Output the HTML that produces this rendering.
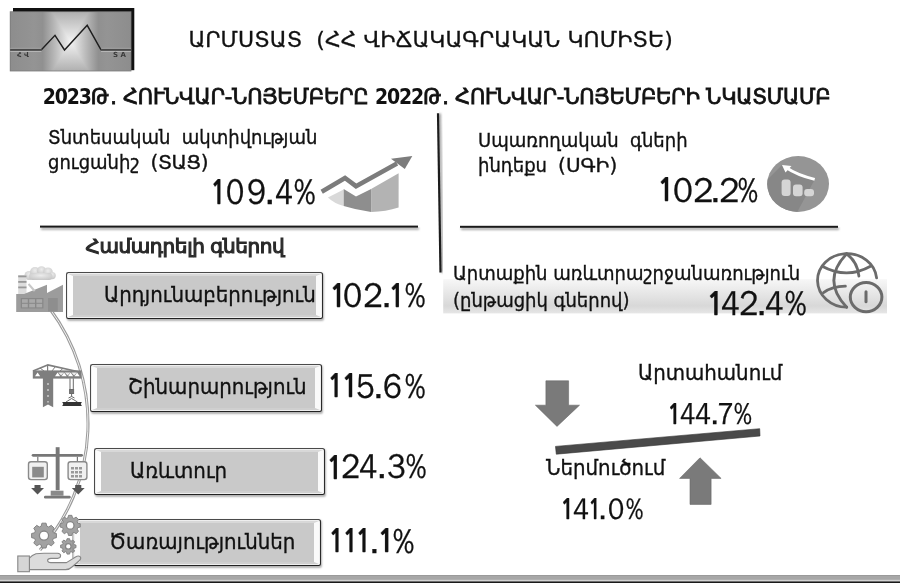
<!DOCTYPE html>
<html><head><meta charset="utf-8">
<style>
html,body{margin:0;padding:0;background:#fff;}
body{width:900px;height:583px;position:relative;overflow:hidden;}
.t{position:absolute;white-space:pre;line-height:1;color:#111;font-family:"DejaVu Sans",sans-serif;}
.d{font-family:"DejaVu Sans Condensed","DejaVu Sans",sans-serif;font-weight:bold;-webkit-text-stroke:0;letter-spacing:-1.15px;}
.c{font-family:"DejaVu Sans",sans-serif;-webkit-text-stroke:0.35px #111;transform:scaleX(0.9);transform-origin:0 0;}
.w{display:inline-block;transform:scaleX(1.1111);transform-origin:0 0;}
.num span{position:absolute;line-height:1;white-space:pre;color:#111;transform-origin:0 0;-webkit-text-stroke:0.25px #111;}
.box{position:absolute;box-sizing:border-box;border:1.7px solid;border-color:#4a4a4a #2a2a2a #222 #4a4a4a;border-radius:2.5px;background:#c9c9c9;box-shadow:1px 1.5px 2px rgba(0,0,0,0.3), inset 0 0 0 1px #eeeeee;}
.box i{position:absolute;left:1px;right:1px;top:1px;bottom:1px;box-sizing:border-box;border-style:solid;border-width:2px 5px 2px 5px;border-color:#d8d8d8 #fafafa #cfcfcf #fdfdfd;}
svg{position:absolute;left:0;top:0;}
</style></head><body>
<svg width="900" height="583" viewBox="0 0 900 583">
<defs>
<linearGradient id="lgT" x1="0" y1="0" x2="0" y2="1"><stop offset="0" stop-color="#a8a8a8"/><stop offset="1" stop-color="#f4f4f4"/></linearGradient>
<linearGradient id="lgB" x1="0" y1="1" x2="0" y2="0"><stop offset="0" stop-color="#a0a0a0"/><stop offset="1" stop-color="#f4f4f4"/></linearGradient>
<linearGradient id="lgL" x1="0" y1="0" x2="1" y2="0"><stop offset="0" stop-color="#8c8c8c"/><stop offset="0.35" stop-color="#989898"/><stop offset="1" stop-color="#f4f4f4"/></linearGradient>
<linearGradient id="lgR" x1="1" y1="0" x2="0" y2="0"><stop offset="0" stop-color="#8c8c8c"/><stop offset="0.35" stop-color="#989898"/><stop offset="1" stop-color="#f4f4f4"/></linearGradient>
<linearGradient id="band" x1="0" y1="0" x2="0" y2="1"><stop offset="0" stop-color="#f7f7f7"/><stop offset="0.78" stop-color="#d8d8d8"/><stop offset="1" stop-color="#e6e6e6"/></linearGradient>
<filter id="sh" x="-10%" y="-10%" width="130%" height="200%"><feGaussianBlur stdDeviation="0.8"/></filter>
</defs>
<!-- logo -->
<rect x="13" y="8" width="121.3" height="62.2" fill="#111"/>

<!-- vertical divider -->
<line x1="439.8" y1="113.5" x2="442.3" y2="272.8" stroke="#999" stroke-width="2.2" filter="url(#sh)"/>
<line x1="438" y1="113.2" x2="440.5" y2="272.6" stroke="#1c1c1c" stroke-width="2.2"/>
<!-- horizontal lines -->
<rect x="41" y="227.6" width="378" height="2" fill="#999" filter="url(#sh)"/>
<rect x="40" y="225.6" width="378" height="2" fill="#1a1a1a"/>
<rect x="461" y="227.8" width="378" height="2" fill="#999" filter="url(#sh)"/>
<rect x="460" y="225.8" width="378" height="2" fill="#1a1a1a"/>

<!-- growth icon -->
<path d="M327.9,197.6 L343.7,189.6 L343.7,206.1 Q334,203.5 327.9,197.6 Z" fill="#d9d9d9"/>
<path d="M343.7,189 L356,196.5 L371.1,189 L371.1,212 Q356,210 343.7,206.1 Z" fill="#8e8e8e"/>
<path d="M371.1,189 L398.6,173.2 L398.6,207.5 Q386,211.5 371.1,212 Z" fill="#b3b3b3"/>
<polyline points="321.7,191.7 345,178 356,186.2 397,163.5" fill="none" stroke="#7c7c7c" stroke-width="4.6" stroke-linejoin="miter"/>
<polygon points="412.3,156 391,158.7 404.8,169" fill="#7c7c7c"/>

<!-- SGI circle icon -->
<defs><clipPath id="cc"><ellipse cx="798.1" cy="184" rx="30.9" ry="28"/></clipPath></defs>
<ellipse cx="798.1" cy="184" rx="30.9" ry="28" fill="#959595"/>
<polygon clip-path="url(#cc)" points="782,165 814.7,179.4 793.5,219 750,219 750,197" fill="#878787"/>
<g fill="#d5d5d5">
<rect x="781.6" y="179.5" width="9" height="16.5" rx="3"/>
<rect x="793" y="184.5" width="9.6" height="11.7" rx="3"/>
<rect x="804.2" y="189" width="9.8" height="7.2" rx="3"/>
</g>
<path d="M814.7,179.4 Q797,175 786,167.5" fill="none" stroke="#fff" stroke-width="2.8"/>
<polygon points="782,165 791.5,166 785.5,172.5" fill="#fff"/>

<!-- band -->
<rect x="443.2" y="279.2" width="443.8" height="34.2" fill="url(#band)"/>

<!-- globe icon -->
<g fill="none" stroke="#6b6b6b" stroke-width="2.8" stroke-linecap="round">
<path d="M876.6,277.8 A29.6,26.8 0 1 0 846.7,307.2"/>
<path d="M846.7,253.8 Q821,280.5 846.7,307.2"/>
<path d="M846.7,253.8 C853.5,259 858,266 858.9,276"/>
<path d="M822.2,266.2 Q846.7,279.5 870.5,266.2"/>
<path d="M823.5,292.6 Q832,286.5 845.4,286.2"/>
<ellipse cx="866.1" cy="297.1" rx="15.8" ry="14.6" stroke-width="3"/>
<line x1="866" y1="291.8" x2="866" y2="301.8" stroke-width="3"/>
</g>

<!-- arc connector -->
<path d="M50,309 A191,191 0 0 1 40,550" fill="none" stroke="#9a9a9a" stroke-width="3"/>
<path d="M50,309 A191,191 0 0 1 40,550" fill="none" stroke="#f2f2f2" stroke-width="1"/>

<!-- factory icon -->
<g>
<defs><radialGradient id="cl" cx="0.5" cy="0.35" r="0.7"><stop offset="0" stop-color="#ececec"/><stop offset="1" stop-color="#c4c4c4"/></radialGradient></defs>
<g fill="url(#cl)">
<circle cx="29" cy="275.5" r="4.6"/>
<circle cx="35" cy="272" r="5"/>
<circle cx="41.5" cy="270.8" r="4.6"/>
<circle cx="48" cy="272.2" r="4.8"/>
<circle cx="52.2" cy="275.6" r="3.6"/>
<rect x="29" y="273" width="23.5" height="7" rx="3.5"/>
</g>
<rect x="18.2" y="275" width="8.3" height="19" fill="#dddddd"/>
<rect x="18.2" y="275.5" width="8.3" height="1.8" fill="#999"/>
<rect x="18.2" y="281" width="8.3" height="1.8" fill="#999"/>
<rect x="18.2" y="286.5" width="8.3" height="1.8" fill="#999"/>
<polygon points="16.2,294 24,294 47,284.7 47,293 63,284.7 63,312 16.2,312" fill="#9c9c9c"/>
<line x1="28.5" y1="284" x2="34.7" y2="291" stroke="#c8c8c8" stroke-width="2"/>
<rect x="20.8" y="298" width="22.6" height="10.4" fill="#888"/>
<g fill="#a9a9a9"><rect x="22" y="299.2" width="5.8" height="3.6"/><rect x="29.2" y="299.2" width="5.8" height="3.6"/><rect x="36.4" y="299.2" width="5.8" height="3.6"/><rect x="22" y="303.8" width="5.8" height="3.6"/><rect x="29.2" y="303.8" width="5.8" height="3.6"/><rect x="36.4" y="303.8" width="5.8" height="3.6"/></g>
<rect x="48" y="298" width="9.8" height="13.4" fill="#8e8e8e"/>
</g>

<!-- crane icon -->
<g stroke="#7e7e7e" fill="none" stroke-linejoin="round">
<polyline points="33,371 47.6,364.9 78.5,371.8" stroke-width="1.6"/>
<line x1="40" y1="368" x2="44" y2="371" stroke-width="1"/><line x1="47.6" y1="365" x2="47.6" y2="371" stroke-width="1.2"/><line x1="55" y1="367" x2="52" y2="371" stroke-width="1"/><line x1="63" y1="368.4" x2="60" y2="371" stroke-width="1"/>
</g>
<g fill="#7e7e7e">
<rect x="32.8" y="370.4" width="48.8" height="8.2"/>
</g>
<g fill="#fff">
<polygon points="35,376.2 37.6,372.4 40.2,376.2"/><polygon points="55,376.2 57.6,372.4 60.2,376.2"/><polygon points="61.5,376.2 64.1,372.4 66.7,376.2"/><polygon points="68,376.2 70.6,372.4 73.2,376.2"/><polygon points="74.5,376.2 77.1,372.4 79.7,376.2"/>
<polygon points="58.3,372.4 61.1,375.6 63.9,372.4" fill="#eee"/><polygon points="64.8,372.4 67.6,375.6 70.4,372.4" fill="#eee"/><polygon points="71.3,372.4 74.1,375.6 76.9,372.4" fill="#eee"/>
</g>
<g fill="#7e7e7e">
<polygon points="42.9,372 53.2,372 53.2,407.2 48,404.4 42.9,407.2"/>
</g>
<g fill="#b8b8b8"><rect x="47" y="383" width="2" height="2"/><rect x="47" y="389" width="2" height="2"/><rect x="47" y="395" width="2" height="2"/><rect x="47" y="401" width="2" height="1.6"/></g>
<g stroke="#6a6a6a" stroke-width="1" fill="none">
<line x1="70" y1="378.4" x2="70" y2="389.5"/><line x1="73.3" y1="378.4" x2="73.3" y2="389.5"/>
<rect x="69.6" y="389.5" width="4" height="4" fill="#777"/>
<path d="M71.6,393.5 L71.6,396.5 L68.5,398 M71.6,396.5 L74.5,398"/>
<line x1="66" y1="402" x2="71.6" y2="398.5"/><line x1="77.5" y1="402" x2="71.6" y2="398.5"/>
</g>
<polygon points="62.2,402 81.9,402 80.8,404 81.9,405.9 62.2,405.9 63.3,404" fill="#333"/>

<!-- scale icon -->
<g>
<rect x="55.7" y="447.2" width="3.9" height="43" fill="#777"/>
<rect x="31.7" y="453.9" width="51.3" height="2.8" rx="1.4" fill="#777"/>
<line x1="37.8" y1="456.7" x2="37.8" y2="461.2" stroke="#777" stroke-width="1.2"/>
<line x1="77.4" y1="456.7" x2="77.4" y2="461.2" stroke="#777" stroke-width="1.2"/>
<rect x="28.5" y="461.8" width="18.8" height="17.8" rx="2.5" fill="#f0f0f0" stroke="#8a8a8a" stroke-width="1.4"/>
<rect x="32.2" y="466.8" width="11.6" height="10.6" fill="#8a8a8a"/>
<rect x="68.1" y="461.8" width="18.8" height="17.8" rx="2.5" fill="#f0f0f0" stroke="#8a8a8a" stroke-width="1.4"/>
<g fill="#999"><rect x="71" y="467" width="3" height="2.5"/><rect x="75" y="467" width="3" height="2.5"/><rect x="79" y="467" width="3" height="2.5"/><rect x="71" y="471" width="3" height="2.5"/><rect x="75" y="471" width="3" height="2.5"/><rect x="79" y="471" width="3" height="2.5"/><rect x="71" y="475" width="3" height="2.5"/><rect x="75" y="475" width="3" height="2.5"/><rect x="79" y="475" width="3" height="2.5"/></g>
<polygon points="34.5,485.1 40.6,485.1 40.6,488 44,488 37.55,494.6 31.1,488 34.5,488" fill="#555"/>
<polygon points="75.2,485.1 81.3,485.1 81.3,488 84.7,488 78.25,494.6 71.8,488 75.2,488" fill="#555"/>
<rect x="50.7" y="490.7" width="12.8" height="5" fill="#8a8a8a"/>
<rect x="44" y="495.7" width="26.7" height="2.8" rx="1.2" fill="#777"/>
</g>

</svg>

<div style="position:absolute;left:10.2px;top:11.7px;width:120.8px;height:59.3px;background:linear-gradient(90deg,#8d8d8d 0%,#949494 20%,#909090 27%,#bdbdbd 38%,#f3f3f3 50%,#bdbdbd 62%,#909090 73%,#949494 80%,#8d8d8d 100%),linear-gradient(180deg,#b0b0b0 0%,#f3f3f3 50%,#b0b0b0 100%);background-blend-mode:darken;"></div>
<svg width="900" height="583" viewBox="0 0 900 583">
<rect x="10.2" y="11.7" width="120.8" height="59.3" fill="none" stroke="#7a7a7a" stroke-width="0.8"/>
<line x1="10.2" y1="48.4" x2="41.4" y2="48.4" stroke="#bdbdbd" stroke-width="0.8"/>
<line x1="10.2" y1="51.4" x2="41.4" y2="51.4" stroke="#c4c4c4" stroke-width="0.8"/>
<line x1="101" y1="48.4" x2="131" y2="48.4" stroke="#bdbdbd" stroke-width="0.8"/>
<line x1="101" y1="51.4" x2="131" y2="51.4" stroke="#c4c4c4" stroke-width="0.8"/>
<polyline points="41.4,49.8 55,35.3 64.5,50 87.2,25.3 101,49.8" fill="none" stroke="#1e1e1e" stroke-width="1.4" stroke-linejoin="miter"/>
<line x1="10.2" y1="49.8" x2="41.8" y2="49.8" stroke="#4a4a4a" stroke-width="2"/>
<line x1="100.6" y1="49.8" x2="131" y2="49.8" stroke="#4a4a4a" stroke-width="2"/>
<text x="17" y="57.3" font-family="DejaVu Sans" font-size="7" font-weight="bold" fill="#3a3a3a">Հ Վ</text>
<text x="113" y="57.3" font-family="DejaVu Sans" font-size="7" font-weight="bold" fill="#3a3a3a">S A</text>

</svg>
<!-- boxes (HTML) -->
<div class="box" style="left:65.7px;top:272.2px;width:257.1px;height:47.3px"><i></i></div>
<div class="box" style="left:90.3px;top:363.9px;width:231.7px;height:48.1px"><i></i></div>
<div class="box" style="left:93.6px;top:448.1px;width:231.4px;height:46.8px"><i></i></div>
<div class="box" style="left:72.8px;top:519.4px;width:248.5px;height:47px"><i></i></div>

<svg width="900" height="583" viewBox="0 0 900 583" style="pointer-events:none">
<!-- gears + hand -->
<rect x="72.2" y="521.2" width="2.4" height="43.6" fill="#f4f4f4"/>
<path d="M53.38,532.76 L56.43,533.53 L56.43,537.67 L53.38,538.44 L52.64,540.22 L54.25,542.93 L51.33,545.85 L48.62,544.24 L46.84,544.98 L46.07,548.03 L41.93,548.03 L41.16,544.98 L39.38,544.24 L36.67,545.85 L33.75,542.93 L35.36,540.22 L34.62,538.44 L31.57,537.67 L31.57,533.53 L34.62,532.76 L35.36,530.98 L33.75,528.27 L36.67,525.35 L39.38,526.96 L41.16,526.22 L41.93,523.17 L46.07,523.17 L46.84,526.22 L48.62,526.96 L51.33,525.35 L54.25,528.27 L52.64,530.98 Z" fill="#a2a2a2" stroke="#7e7e7e" stroke-width="0.9" stroke-linejoin="round"/><circle cx="44" cy="535.6" r="4.6" fill="#fff" stroke="#858585" stroke-width="1.3"/>
<path d="M77.76,523.11 L80.26,523.73 L80.26,527.07 L77.76,527.69 L77.17,529.12 L78.50,531.33 L76.13,533.70 L73.92,532.37 L72.49,532.96 L71.87,535.46 L68.53,535.46 L67.91,532.96 L66.48,532.37 L64.27,533.70 L61.90,531.33 L63.23,529.12 L62.64,527.69 L60.14,527.07 L60.14,523.73 L62.64,523.11 L63.23,521.68 L61.90,519.47 L64.27,517.10 L66.48,518.43 L67.91,517.84 L68.53,515.34 L71.87,515.34 L72.49,517.84 L73.92,518.43 L76.13,517.10 L78.50,519.47 L77.17,521.68 Z" fill="#a2a2a2" stroke="#7e7e7e" stroke-width="0.9" stroke-linejoin="round"/><circle cx="70.2" cy="525.4" r="3.8" fill="#fff" stroke="#858585" stroke-width="1.3"/>
<path d="M74.04,544.66 L75.99,545.12 L75.99,547.68 L74.04,548.14 L73.59,549.23 L74.65,550.94 L72.84,552.75 L71.13,551.69 L70.04,552.14 L69.58,554.09 L67.02,554.09 L66.56,552.14 L65.47,551.69 L63.76,552.75 L61.95,550.94 L63.01,549.23 L62.56,548.14 L60.61,547.68 L60.61,545.12 L62.56,544.66 L63.01,543.57 L61.95,541.86 L63.76,540.05 L65.47,541.11 L66.56,540.66 L67.02,538.71 L69.58,538.71 L70.04,540.66 L71.13,541.11 L72.84,540.05 L74.65,541.86 L73.59,543.57 Z" fill="#a2a2a2" stroke="#7e7e7e" stroke-width="0.9" stroke-linejoin="round"/><circle cx="68.3" cy="546.4" r="2.8" fill="#fff" stroke="#858585" stroke-width="1.3"/>
<line x1="72.9" y1="533" x2="72.9" y2="558" stroke="#8a8a8a" stroke-width="0.9"/>
<!-- hand -->
<path d="M29.4,558.2 Q32,555.2 36,553.8 Q39,553.2 44,553.2 L57.5,553.2 Q60.6,553.4 60.6,555.8 Q60.6,558.2 57.5,558.4 L51,558.4 Q47.6,558.6 47.6,560.5 Q47.8,562.6 51,562.6 L66.5,562.6 L75.5,557 Q78.5,555.2 80.3,556.8 Q81.5,558.4 79.5,560.5 L72,567 Q69.5,569.6 65.5,569.6 L29.4,569.6 Z" fill="#dcdcdc" stroke="#878787" stroke-width="1.1" stroke-linejoin="round"/>
<rect x="17.8" y="556" width="11.6" height="15.7" fill="#d6d6d6" stroke="#878787" stroke-width="1.1"/>
<!-- bottom-right arrows and bar -->
<polygon points="545.9,380.8 568.6,380.8 568.6,405.2 579.5,405.2 557,426.4 535.4,405.2 545.9,405.2" fill="#7a7a7a" stroke="#6a6a6a" stroke-width="0.6"/>
<polygon points="700,457.8 721.1,478.4 711.1,478.4 711.1,504.4 690,504.4 690,478.4 679.6,478.4" fill="#7a7a7a" stroke="#6a6a6a" stroke-width="0.6"/>
<polygon points="555.5,446.4 759.7,428.7 760,436 556.3,454.2" fill="#4a4a4a" stroke="#333" stroke-width="0.6"/>
<!-- bottom band -->
<rect x="0" y="575" width="900" height="5" fill="#a7a7a7"/>
<rect x="0" y="575" width="900" height="1" fill="#9a9a9a"/>
<rect x="0" y="579.8" width="900" height="1.6" fill="#d2d2d2"/>
<rect x="0" y="581.4" width="900" height="1.6" fill="#1a1a1a"/>
</svg>

<!-- texts -->
<div class="t" style="left:188.4px;top:28.9px;font-size:22px;letter-spacing:0.05px;-webkit-text-stroke:0.3px #111">ԱՐՄՍՏԱՏ  (ՀՀ ՎԻՃԱԿԱԳՐԱԿԱՆ ԿՈՄԻՏԵ)</div>
<div class="t" style="left:42.8px;top:86.9px;font-size:21px;letter-spacing:-0.25px;-webkit-text-stroke:0.8px #111"><span class="d">2023</span><span style="margin-right:1.6px">Թ</span>. ՀՈՒՆՎԱՐ-ՆՈՅԵՄԲԵՐԸ <span class="d">2022</span><span style="margin-right:1.6px">Թ</span>. ՀՈՒՆՎԱՐ-ՆՈՅԵՄԲԵՐԻ ՆԿԱՏՄԱՄԲ</div>

<div class="t c" style="left:47.7px;top:127.5px;font-size:20px;line-height:24.3px;top:125.3px">Տնտեսական  ակտիվության
ցուցանիշ  <span class="w" style="letter-spacing:-0.5px">(ՏԱՑ)</span></div>
<div class="t" style="left:85.5px;top:236.4px;font-size:20px;letter-spacing:-0.42px;-webkit-text-stroke:1.1px #2a2a2a;color:#2a2a2a">Համադրելի գներով</div>

<div class="t c" style="left:478px;top:128px;font-size:20px;line-height:24.5px">Սպառողական  գների
ինդեքս  <span class="w">(ՍԳԻ)</span></div>

<div class="t c" style="left:453px;top:260px;font-size:20px;line-height:27px">Արտաքին առևտրաշրջանառություն
(ընթացիկ գներով)</div>

<div class="t c" style="left:103.5px;top:284px;font-size:22px">Արդյունաբերություն</div>
<div class="t c" style="left:127.5px;top:376px;font-size:22px">Շինարարություն</div>
<div class="t c" style="left:130px;top:460px;font-size:22px">Առևտուր</div>
<div class="t c" style="left:108.5px;top:531px;font-size:22px">Ծառայություններ</div>

<div class="t c" style="left:638px;top:362px;font-size:22px">Արտահանում</div>
<div class="t c" style="left:545.5px;top:457px;font-size:22px">Ներմուծում</div>
<!-- numbers -->
<div class="num"><span style="left:210.1px;top:175.6px;font-size:33.4px;font-weight:bold;font-family:'NanumGothic','Liberation Sans',sans-serif;transform:scaleX(0.814)">1</span><span style="left:226.4px;top:173.9px;font-size:36.0px;font-weight:normal;font-family:'WenQuanYi Zen Hei','Liberation Sans',sans-serif;transform:scaleX(0.843)">0</span><span style="left:246.5px;top:173.9px;font-size:36.0px;font-weight:normal;font-family:'WenQuanYi Zen Hei','Liberation Sans',sans-serif;transform:scaleX(0.876)">9</span><span style="left:264.3px;top:173.9px;font-size:36.0px;font-weight:normal;font-family:'WenQuanYi Zen Hei','Liberation Sans',sans-serif;transform:scaleX(1.000)">.</span><span style="left:275.1px;top:173.9px;font-size:36.0px;font-weight:normal;font-family:'WenQuanYi Zen Hei','Liberation Sans',sans-serif;transform:scaleX(0.827)">4</span><span style="left:293.5px;top:173.9px;font-size:36.0px;font-weight:normal;font-family:'WenQuanYi Zen Hei','Liberation Sans',sans-serif;transform:scaleX(0.850)">%</span></div>
<div class="num"><span style="left:657.1px;top:174.2px;font-size:32.2px;font-weight:bold;font-family:'NanumGothic','Liberation Sans',sans-serif;transform:scaleX(0.906)">1</span><span style="left:673.0px;top:172.6px;font-size:34.8px;font-weight:normal;font-family:'WenQuanYi Zen Hei','Liberation Sans',sans-serif;transform:scaleX(0.952)">0</span><span style="left:693.1px;top:172.6px;font-size:34.8px;font-weight:normal;font-family:'WenQuanYi Zen Hei','Liberation Sans',sans-serif;transform:scaleX(0.979)">2</span><span style="left:710.0px;top:172.6px;font-size:34.8px;font-weight:normal;font-family:'WenQuanYi Zen Hei','Liberation Sans',sans-serif;transform:scaleX(1.000)">.</span><span style="left:718.8px;top:172.6px;font-size:34.8px;font-weight:normal;font-family:'WenQuanYi Zen Hei','Liberation Sans',sans-serif;transform:scaleX(0.979)">2</span><span style="left:738.4px;top:172.6px;font-size:34.8px;font-weight:normal;font-family:'WenQuanYi Zen Hei','Liberation Sans',sans-serif;transform:scaleX(0.815)">%</span></div>
<div class="num"><span style="left:705.7px;top:287.8px;font-size:32.2px;font-weight:bold;font-family:'NanumGothic','Liberation Sans',sans-serif;transform:scaleX(0.943)">1</span><span style="left:720.8px;top:286.2px;font-size:34.8px;font-weight:normal;font-family:'WenQuanYi Zen Hei','Liberation Sans',sans-serif;transform:scaleX(0.890)">4</span><span style="left:738.7px;top:286.2px;font-size:34.8px;font-weight:normal;font-family:'WenQuanYi Zen Hei','Liberation Sans',sans-serif;transform:scaleX(0.931)">2</span><span style="left:756.3px;top:286.2px;font-size:34.8px;font-weight:normal;font-family:'WenQuanYi Zen Hei','Liberation Sans',sans-serif;transform:scaleX(1.000)">.</span><span style="left:765.2px;top:286.2px;font-size:34.8px;font-weight:normal;font-family:'WenQuanYi Zen Hei','Liberation Sans',sans-serif;transform:scaleX(0.885)">4</span><span style="left:784.7px;top:286.2px;font-size:34.8px;font-weight:normal;font-family:'WenQuanYi Zen Hei','Liberation Sans',sans-serif;transform:scaleX(0.881)">%</span></div>
<div class="num"><span style="left:328.6px;top:280.1px;font-size:32.1px;font-weight:bold;font-family:'NanumGothic','Liberation Sans',sans-serif;transform:scaleX(0.910)">1</span><span style="left:343.4px;top:278.5px;font-size:34.6px;font-weight:normal;font-family:'WenQuanYi Zen Hei','Liberation Sans',sans-serif;transform:scaleX(0.922)">0</span><span style="left:363.2px;top:278.5px;font-size:34.6px;font-weight:normal;font-family:'WenQuanYi Zen Hei','Liberation Sans',sans-serif;transform:scaleX(0.959)">2</span><span style="left:381.2px;top:278.5px;font-size:34.6px;font-weight:normal;font-family:'WenQuanYi Zen Hei','Liberation Sans',sans-serif;transform:scaleX(1.000)">.</span><span style="left:388.2px;top:280.1px;font-size:32.1px;font-weight:bold;font-family:'NanumGothic','Liberation Sans',sans-serif;transform:scaleX(0.897)">1</span><span style="left:405.1px;top:278.5px;font-size:34.6px;font-weight:normal;font-family:'WenQuanYi Zen Hei','Liberation Sans',sans-serif;transform:scaleX(0.840)">%</span></div>
<div class="num"><span style="left:327.1px;top:370.4px;font-size:32.2px;font-weight:bold;font-family:'NanumGothic','Liberation Sans',sans-serif;transform:scaleX(0.869)">1</span><span style="left:340.5px;top:370.4px;font-size:32.2px;font-weight:bold;font-family:'NanumGothic','Liberation Sans',sans-serif;transform:scaleX(0.906)">1</span><span style="left:355.5px;top:368.8px;font-size:34.8px;font-weight:normal;font-family:'WenQuanYi Zen Hei','Liberation Sans',sans-serif;transform:scaleX(0.898)">5</span><span style="left:373.1px;top:368.8px;font-size:34.8px;font-weight:normal;font-family:'WenQuanYi Zen Hei','Liberation Sans',sans-serif;transform:scaleX(1.000)">.</span><span style="left:382.9px;top:368.8px;font-size:34.8px;font-weight:normal;font-family:'WenQuanYi Zen Hei','Liberation Sans',sans-serif;transform:scaleX(0.908)">6</span><span style="left:404.7px;top:368.8px;font-size:34.8px;font-weight:normal;font-family:'WenQuanYi Zen Hei','Liberation Sans',sans-serif;transform:scaleX(0.837)">%</span></div>
<div class="num"><span style="left:326.2px;top:451.9px;font-size:32.1px;font-weight:bold;font-family:'NanumGothic','Liberation Sans',sans-serif;transform:scaleX(0.897)">1</span><span style="left:340.8px;top:450.3px;font-size:34.6px;font-weight:normal;font-family:'WenQuanYi Zen Hei','Liberation Sans',sans-serif;transform:scaleX(0.923)">2</span><span style="left:358.8px;top:450.3px;font-size:34.6px;font-weight:normal;font-family:'WenQuanYi Zen Hei','Liberation Sans',sans-serif;transform:scaleX(0.878)">4</span><span style="left:376.4px;top:450.3px;font-size:34.6px;font-weight:normal;font-family:'WenQuanYi Zen Hei','Liberation Sans',sans-serif;transform:scaleX(1.000)">.</span><span style="left:386.5px;top:450.3px;font-size:34.6px;font-weight:normal;font-family:'WenQuanYi Zen Hei','Liberation Sans',sans-serif;transform:scaleX(0.895)">3</span><span style="left:406.4px;top:450.3px;font-size:34.6px;font-weight:normal;font-family:'WenQuanYi Zen Hei','Liberation Sans',sans-serif;transform:scaleX(0.840)">%</span></div>
<div class="num"><span style="left:328.3px;top:525.3px;font-size:32.2px;font-weight:bold;font-family:'NanumGothic','Liberation Sans',sans-serif;transform:scaleX(0.856)">1</span><span style="left:342.0px;top:525.3px;font-size:32.2px;font-weight:bold;font-family:'NanumGothic','Liberation Sans',sans-serif;transform:scaleX(0.856)">1</span><span style="left:355.2px;top:525.3px;font-size:32.2px;font-weight:bold;font-family:'NanumGothic','Liberation Sans',sans-serif;transform:scaleX(0.856)">1</span><span style="left:369.0px;top:523.7px;font-size:34.8px;font-weight:normal;font-family:'WenQuanYi Zen Hei','Liberation Sans',sans-serif;transform:scaleX(1.000)">.</span><span style="left:377.2px;top:525.3px;font-size:32.2px;font-weight:bold;font-family:'NanumGothic','Liberation Sans',sans-serif;transform:scaleX(0.918)">1</span><span style="left:392.8px;top:523.7px;font-size:34.8px;font-weight:normal;font-family:'WenQuanYi Zen Hei','Liberation Sans',sans-serif;transform:scaleX(0.868)">%</span></div>
<div class="num"><span style="left:666.9px;top:400.0px;font-size:28.3px;font-weight:bold;font-family:'NanumGothic','Liberation Sans',sans-serif;transform:scaleX(0.848)">1</span><span style="left:680.1px;top:398.5px;font-size:30.5px;font-weight:normal;font-family:'WenQuanYi Zen Hei','Liberation Sans',sans-serif;transform:scaleX(0.835)">4</span><span style="left:695.1px;top:398.5px;font-size:30.5px;font-weight:normal;font-family:'WenQuanYi Zen Hei','Liberation Sans',sans-serif;transform:scaleX(0.866)">4</span><span style="left:710.0px;top:398.5px;font-size:30.5px;font-weight:normal;font-family:'WenQuanYi Zen Hei','Liberation Sans',sans-serif;transform:scaleX(1.000)">.</span><span style="left:717.0px;top:398.5px;font-size:30.5px;font-weight:normal;font-family:'WenQuanYi Zen Hei','Liberation Sans',sans-serif;transform:scaleX(0.927)">7</span><span style="left:734.4px;top:398.5px;font-size:30.5px;font-weight:normal;font-family:'WenQuanYi Zen Hei','Liberation Sans',sans-serif;transform:scaleX(0.832)">%</span></div>
<div class="num"><span style="left:559.9px;top:496.0px;font-size:27.6px;font-weight:bold;font-family:'NanumGothic','Liberation Sans',sans-serif;transform:scaleX(0.869)">1</span><span style="left:573.1px;top:494.6px;font-size:29.8px;font-weight:normal;font-family:'WenQuanYi Zen Hei','Liberation Sans',sans-serif;transform:scaleX(0.887)">4</span><span style="left:588.1px;top:496.0px;font-size:27.6px;font-weight:bold;font-family:'NanumGothic','Liberation Sans',sans-serif;transform:scaleX(0.796)">1</span><span style="left:598.0px;top:494.6px;font-size:29.8px;font-weight:normal;font-family:'WenQuanYi Zen Hei','Liberation Sans',sans-serif;transform:scaleX(1.000)">.</span><span style="left:608.4px;top:494.6px;font-size:29.8px;font-weight:normal;font-family:'WenQuanYi Zen Hei','Liberation Sans',sans-serif;transform:scaleX(0.904)">0</span><span style="left:626.4px;top:494.6px;font-size:29.8px;font-weight:normal;font-family:'WenQuanYi Zen Hei','Liberation Sans',sans-serif;transform:scaleX(0.826)">%</span></div>
</body></html>
